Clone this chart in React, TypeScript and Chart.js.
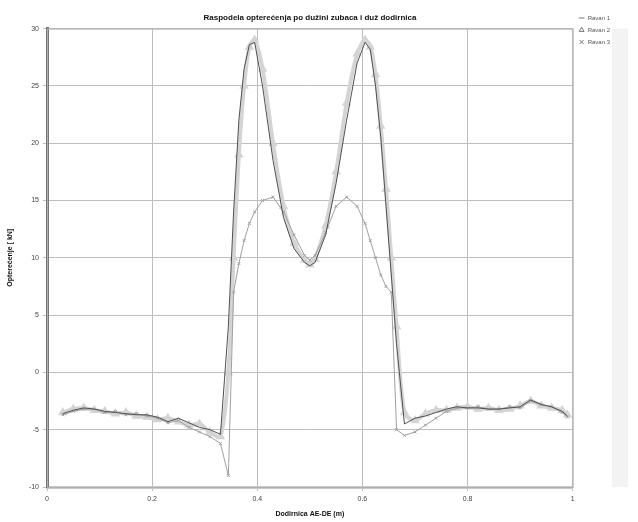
import { useEffect, useRef } from 'react';
import { Chart, registerables } from 'chart.js';
Chart.register(...registerables);

const TITLE = 'Raspodela opterećenja po dužini zubaca i duž dodirnica';
const X_TITLE = 'Dodirnica AE-DE (m)';
const Y_TITLE = 'Opterećenje [ kN]';
const SERIES_NAMES = ['Ravan 1', 'Ravan 2', 'Ravan 3'];
const X_TICKS = [0, 0.2, 0.4, 0.6, 0.8, 1];
const Y_TICKS = [-10, -5, 0, 5, 10, 15, 20, 25, 30];

const xs = [0.03, 0.05, 0.07, 0.09, 0.11, 0.13, 0.15, 0.17, 0.19, 0.21, 0.23, 0.25, 0.27, 0.29, 0.31, 0.33,
  0.345, 0.355, 0.365, 0.375, 0.385, 0.395, 0.41, 0.43, 0.45, 0.47, 0.49, 0.5, 0.51, 0.53, 0.55, 0.57, 0.59,
  0.605, 0.615, 0.625, 0.635, 0.645, 0.655, 0.665, 0.68, 0.70, 0.72, 0.74, 0.76, 0.78, 0.80, 0.82, 0.84, 0.86,
  0.88, 0.90, 0.92, 0.94, 0.96, 0.98, 0.99];

const ravan1 = [-3.6, -3.3, -3.1, -3.2, -3.4, -3.5, -3.6, -3.7, -3.7, -3.9, -4.3, -4.0, -4.4, -4.8, -5.0, -5.4,
  4.0, 14.0, 22.0, 26.5, 28.6, 28.8, 25.0, 18.5, 13.5, 10.8, 9.6, 9.3, 9.6, 12.0, 16.5, 22.0, 27.0,
  28.8, 28.2, 25.0, 20.5, 14.5, 8.5, 2.5, -4.5, -4.0, -3.8, -3.5, -3.2, -3.0, -3.1, -3.1, -3.2, -3.2,
  -3.1, -3.0, -2.4, -2.8, -3.0, -3.4, -3.8];

const ravan2 = [-3.5, -3.2, -3.1, -3.3, -3.4, -3.6, -3.5, -3.8, -3.9, -4.1, -4.0, -4.3, -4.6, -4.5, -5.2, -5.6,
  0.0, 10.0, 19.0, 25.0, 28.4, 29.0, 26.5, 20.0, 14.5, 11.3, 9.8, 9.4, 9.9, 12.8, 17.5, 23.5, 27.8,
  29.0, 28.4, 26.0, 21.5, 16.0, 10.0, 4.0, -3.5, -4.2, -3.6, -3.3, -3.3, -3.1, -3.0, -3.2, -3.1, -3.3,
  -3.2, -2.9, -2.5, -2.9, -3.1, -3.3, -3.7];

const ravan3 = [-3.7, -3.4, -3.2, -3.2, -3.5, -3.4, -3.7, -3.6, -3.8, -4.0, -4.4, -4.2, -4.8, -5.2, -5.6, -6.2,
  -9.0, 7.0, 9.5, 11.5, 13.0, 14.0, 15.0, 15.3, 14.0, 12.0, 10.2, 9.8, 10.2, 12.2, 14.5, 15.3, 14.5,
  13.0, 11.5, 10.0, 8.5, 7.5, 7.0, -5.0, -5.5, -5.2, -4.6, -4.0, -3.4, -3.1, -3.1, -3.0, -3.2, -3.2,
  -3.0, -3.1, -2.5, -2.8, -3.0, -3.5, -3.9];

const toPoints = (ys: number[]) => xs.map((x, i) => ({ x, y: ys[i] }));

const framePlugin = {
  id: 'frame',
  beforeDraw(chart: any) {
    const { ctx, chartArea: a, width, height } = chart;
    ctx.save();
    ctx.fillStyle = '#ffffff';
    ctx.fillRect(0, 0, width, height);
    ctx.fillStyle = '#f3f3f3';
    ctx.fillRect(612, a.top, 16, a.bottom - a.top);
    ctx.restore();
  },
  afterDatasetsDraw(chart: any) {
    const { ctx, chartArea: a } = chart;
    ctx.save();
    ctx.strokeStyle = '#b0b0b0';
    ctx.lineWidth = 1;
    ctx.strokeRect(a.left + 0.5, a.top + 0.5, a.right - a.left, a.bottom - a.top);
    ctx.restore();
  },
};

export default function App() {
  const ref = useRef<HTMLCanvasElement | null>(null);
  useEffect(() => {
    document.body.style.margin = '0';
    const canvas = ref.current!;
    const chart = new Chart(canvas, {
      type: 'line',
      data: {
        datasets: [
          {
            label: SERIES_NAMES[0],
            data: toPoints(ravan1),
            borderColor: '#505050',
            backgroundColor: '#505050',
            borderWidth: 1,
            pointRadius: 0,
            pointStyle: 'line',
            order: 1,
          },
          {
            label: SERIES_NAMES[1],
            data: toPoints(ravan2),
            borderColor: '#d4d4d4',
            backgroundColor: '#d4d4d4',
            borderWidth: 4,
            pointRadius: 1.5,
            pointStyle: 'triangle',
            tension: 0.3,
            order: 3,
          },
          {
            label: SERIES_NAMES[2],
            data: toPoints(ravan3),
            borderColor: '#a0a0a0',
            backgroundColor: '#a0a0a0',
            borderWidth: 1,
            pointRadius: 2,
            pointStyle: 'crossRot',
            order: 2,
          },
        ],
      },
      options: {
        animation: false,
        responsive: false,
        layout: { padding: { top: 9, right: 18, left: 0, bottom: 0 } },
        plugins: {
          title: {
            display: true,
            text: TITLE,
            color: '#111',
            font: { family: 'Liberation Sans', size: 8, weight: 'bold' },
            padding: { top: 4, bottom: 6 },
          },
          legend: {
            position: 'right',
            align: 'start',
            labels: {
              color: '#555',
              font: { family: 'Liberation Sans', size: 6 },
              boxWidth: 8,
              boxHeight: 4,
              padding: 6,
              usePointStyle: true,
              sort: (a: any, b: any) => a.datasetIndex - b.datasetIndex,
              generateLabels: (ch: any) => {
                const items = Chart.defaults.plugins.legend.labels.generateLabels(ch);
                return items.map((it: any) => ({ ...it, lineWidth: 1, fillStyle: 'rgba(0,0,0,0)', strokeStyle: '#777' }));
              },
            },
          },
          tooltip: { enabled: false },
        },
        scales: {
          x: {
            type: 'linear',
            min: 0,
            max: 1,
            afterBuildTicks: (s: any) => { s.ticks = X_TICKS.map((v) => ({ value: v })); },
            afterFit: (s: any) => { s.height = 35; },
            ticks: {
              color: '#444',
              font: { family: 'Liberation Sans', size: 7 },
              padding: 4,
              callback: (v: any) => String(v),
            },
            grid: { color: '#bdbdbd', tickLength: 4 },
            border: { color: '#c8c8c8', width: 3 },
            title: {
              display: true,
              text: X_TITLE,
              color: '#111',
              font: { family: 'Liberation Sans', size: 7, weight: 'bold' },
              padding: { top: 0, bottom: 4 },
            },
          },
          y: {
            min: -10,
            max: 30,
            afterBuildTicks: (s: any) => { s.ticks = Y_TICKS.map((v) => ({ value: v })); },
            afterFit: (s: any) => { s.width = 47; },
            ticks: {
              color: '#444',
              font: { family: 'Liberation Sans', size: 7 },
              padding: 4,
            },
            grid: { color: '#bdbdbd', tickLength: 4 },
            border: { color: '#777', width: 3 },
            title: {
              display: true,
              text: Y_TITLE,
              color: '#111',
              font: { family: 'Liberation Sans', size: 7, weight: 'bold' },
              padding: { top: 6, bottom: 4 },
            },
          },
        },
      },
      plugins: [framePlugin],
    });
    return () => chart.destroy();
  }, []);
  return <canvas ref={ref} width={638} height={522} style={{ display: 'block' }} />;
}
